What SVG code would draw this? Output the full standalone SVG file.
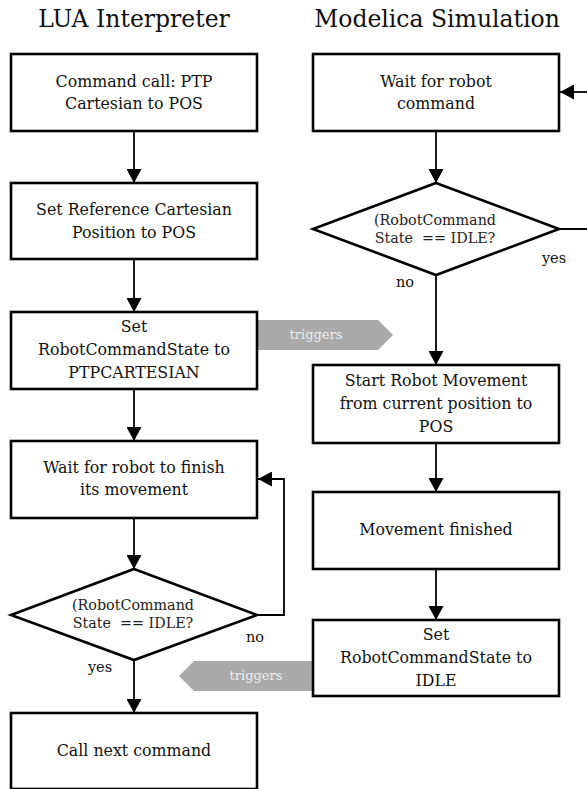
<svg xmlns="http://www.w3.org/2000/svg" width="587" height="789" viewBox="0 0 587 789">
<style>
.box{fill:#fff;stroke:#000;stroke-width:2.6}
.t{font-family:"DejaVu Serif",serif;font-size:15.8px;fill:#111;text-anchor:middle}
.d{font-family:"DejaVu Serif",serif;font-size:14.3px;fill:#222;text-anchor:middle}
.title{font-family:"DejaVu Serif",serif;font-size:23.5px;fill:#111;text-anchor:middle}
.lbl{font-family:"DejaVu Serif",serif;font-size:14.5px;fill:#111;text-anchor:middle}
.c{fill:none;stroke:#000;stroke-width:1.8}
.trg{fill:#aaaaaa}
.trt{font-family:"DejaVu Serif",serif;font-size:13px;fill:#ececec;text-anchor:middle}
</style>
<defs>
<marker id="ah" markerWidth="14" markerHeight="15" refX="14" refY="7.5" orient="auto" markerUnits="userSpaceOnUse">
<path d="M0,0 L14,7.5 L0,15 Z" fill="#000"/>
</marker>
</defs>
<text class="title" x="134" y="27">LUA Interpreter</text>
<text class="title" x="437" y="27">Modelica Simulation</text>

<g id="trigger1">
<path class="trg" d="M257,320 L378,320 L393,335 L378,350 L257,350 Z"/>
<text class="trt" x="316" y="339">triggers</text>
</g>
<g id="trigger2">
<path class="trg" d="M313,661 L194,661 L179,676 L194,691 L313,691 Z"/>
<text class="trt" x="256" y="680">triggers</text>
</g>

<g id="connectors">
<line class="c" x1="134" y1="131" x2="134" y2="183" marker-end="url(#ah)"/>
<line class="c" x1="134" y1="259" x2="134" y2="312" marker-end="url(#ah)"/>
<line class="c" x1="134" y1="389" x2="134" y2="441" marker-end="url(#ah)"/>
<line class="c" x1="134" y1="518" x2="134" y2="569" marker-end="url(#ah)"/>
<line class="c" x1="134" y1="660" x2="134" y2="713" marker-end="url(#ah)"/>
<polyline class="c" points="257,615 284,615 284,479 258,479" marker-end="url(#ah)"/>
<line class="c" x1="436" y1="131" x2="436" y2="183" marker-end="url(#ah)"/>
<line class="c" x1="436" y1="275" x2="436" y2="365" marker-end="url(#ah)"/>
<line class="c" x1="436" y1="443" x2="436" y2="492" marker-end="url(#ah)"/>
<line class="c" x1="436" y1="569" x2="436" y2="620" marker-end="url(#ah)"/>
<polyline class="c" points="559,229 592,229"/>
<line class="c" x1="592" y1="92" x2="560" y2="92" marker-end="url(#ah)"/>
<text class="lbl" x="554" y="263">yes</text>
<text class="lbl" x="405" y="287">no</text>
<text class="lbl" x="255" y="642">no</text>
<text class="lbl" x="100" y="672">yes</text>
</g>

<g id="cmd-call">
<rect class="box" x="11" y="54" width="246" height="77"/>
<text class="t" x="134" y="87">Command call: PTP</text>
<text class="t" x="134" y="109">Cartesian to POS</text>
</g>
<g id="set-ref">
<rect class="box" x="11" y="183" width="246" height="76"/>
<text class="t" x="134" y="215">Set Reference Cartesian</text>
<text class="t" x="134" y="238">Position to POS</text>
</g>
<g id="set-state-ptp">
<rect class="box" x="11" y="312" width="246" height="77"/>
<text class="t" x="134" y="332">Set</text>
<text class="t" x="134" y="355">RobotCommandState to</text>
<text class="t" x="134" y="378">PTPCARTESIAN</text>
</g>
<g id="wait-finish">
<rect class="box" x="11" y="441" width="246" height="77"/>
<text class="t" x="134" y="473">Wait for robot to finish</text>
<text class="t" x="134" y="495">its movement</text>
</g>
<g id="dec-left">
<polygon class="box" points="134,569 257,615 134,660 11,615"/>
<text class="d" x="133" y="610">(RobotCommand</text>
<text class="d" x="133" y="628" xml:space="preserve">State  == IDLE?</text>
</g>
<g id="call-next">
<rect class="box" x="11" y="713" width="246" height="76"/>
<text class="t" x="134" y="756">Call next command</text>
</g>

<g id="wait-cmd">
<rect class="box" x="313" y="54" width="246" height="77"/>
<text class="t" x="436" y="87">Wait for robot</text>
<text class="t" x="436" y="109">command</text>
</g>
<g id="dec-right">
<polygon class="box" points="436,183 559,229 436,275 313,229"/>
<text class="d" x="435" y="225">(RobotCommand</text>
<text class="d" x="435" y="243" xml:space="preserve">State  == IDLE?</text>
</g>
<g id="start-move">
<rect class="box" x="313" y="365" width="246" height="78"/>
<text class="t" x="436" y="386">Start Robot Movement</text>
<text class="t" x="436" y="409">from current position to</text>
<text class="t" x="436" y="432">POS</text>
</g>
<g id="move-finished">
<rect class="box" x="313" y="492" width="246" height="77"/>
<text class="t" x="436" y="535">Movement finished</text>
</g>
<g id="set-state-idle">
<rect class="box" x="313" y="620" width="246" height="76"/>
<text class="t" x="436" y="640">Set</text>
<text class="t" x="436" y="663">RobotCommandState to</text>
<text class="t" x="436" y="686">IDLE</text>
</g>
</svg>
